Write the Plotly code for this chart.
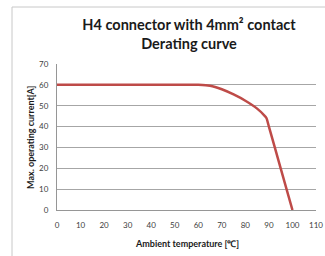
import plotly.graph_objects as go

temperature = [0, 55, 60, 65, 70, 75, 80, 85, 88, 89, 90, 95, 100]
current = [60, 60, 60, 59.6, 57.9, 55.4, 52.4, 48.6, 45.4, 44, 40, 20, 0]

x_ticks = list(range(0, 111, 10))
y_ticks = list(range(0, 71, 10))

W, H = 325, 256
L, R, T, B = 57, 9, 64, 46
pw, ph = W - L - R, H - T - B

fig = go.Figure()
fig.add_trace(go.Scatter(
    x=temperature, y=current, mode="lines",
    line=dict(color="#BE4B48", width=2.5, shape="spline", smoothing=0.4),
    showlegend=False, hoverinfo="skip"))

font_family = "Lato, Open Sans, sans-serif"
fig.update_layout(
    width=W, height=H,
    margin=dict(l=L, r=R, t=T, b=B, autoexpand=False),
    paper_bgcolor="white", plot_bgcolor="white",
    title=dict(text="<b>H4 connector with 4mm² contact<br>Derating curve</b>",
               x=189 / W, xanchor="center", y=1 - 30 / H, yanchor="top",
               font=dict(family=font_family, size=14.5, color="#1a1a1a")),
    xaxis=dict(range=[0, 110], tickvals=x_ticks, showgrid=False,
               showline=True, linecolor="#969696", linewidth=1,
               ticks="outside", ticklen=7, tickcolor="rgba(0,0,0,0)",
               tickfont=dict(family=font_family, size=8, color="#404040"),
               zeroline=False, fixedrange=True, automargin=False),
    yaxis=dict(range=[0, 70], tickvals=y_ticks, showgrid=True,
               gridcolor="#A6A6A6", gridwidth=1,
               showline=True, linecolor="#969696", linewidth=1,
               ticks="outside", ticklen=6, tickcolor="rgba(0,0,0,0)",
               tickfont=dict(family=font_family, size=8, color="#404040"),
               zeroline=False, fixedrange=True, automargin=False),
)

# axis titles as annotations (paper coords)
fig.add_annotation(text="<b>Ambient temperature [℃]</b>", xref="paper", yref="paper",
                   x=(187 - L) / pw, y=-(243 - (H - B)) / ph, xanchor="center", yanchor="middle",
                   showarrow=False, font=dict(family=font_family, size=9, color="#1a1a1a"))
fig.add_annotation(text="<b>Max. operating current[A]</b>", xref="paper", yref="paper",
                   x=(30 - L) / pw, y=((H - B) - 137) / ph, xanchor="center", yanchor="middle",
                   textangle=-90, showarrow=False,
                   font=dict(family=font_family, size=9, color="#1a1a1a"))

# outer chart border (light grey), partially visible at top/left
bx0 = (12 - L) / pw
by1 = (H - B - 7) / ph
fig.add_shape(type="line", xref="paper", yref="paper", x0=bx0, x1=1.2, y0=by1, y1=by1,
              line=dict(color="#C8C8C8", width=1), layer="above")
fig.add_shape(type="line", xref="paper", yref="paper", x0=bx0, x1=bx0, y0=-0.5, y1=by1,
              line=dict(color="#C8C8C8", width=1), layer="above")

fig.write_html("out.html", config={"displayModeBar": False},
               post_script="document.body.style.margin='0';document.body.style.overflow='hidden';")
